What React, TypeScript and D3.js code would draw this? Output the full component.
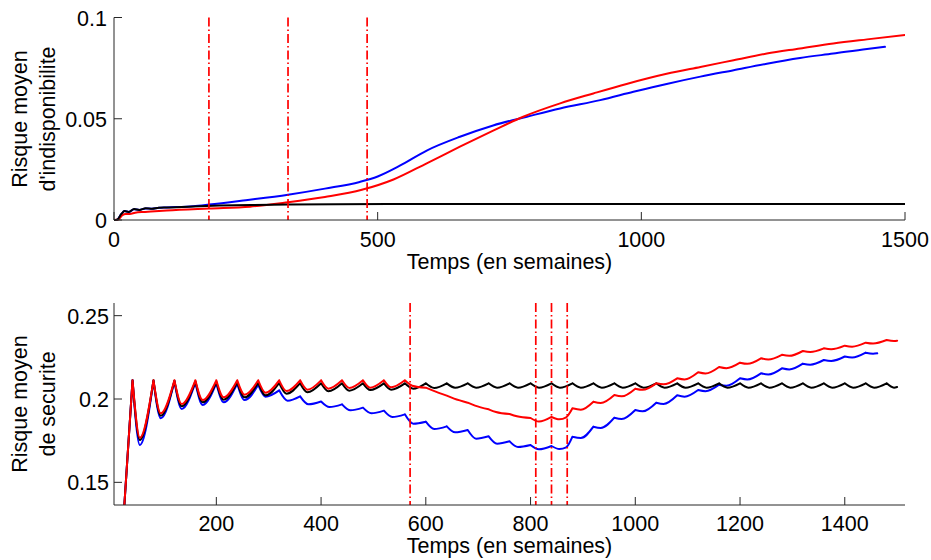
import React from 'react';
import * as d3 from 'd3';

type P = [number, number];

const W = 931;
const H = 560;

// ---------- Top panel data ----------
const topXTicks = [0, 500, 1000, 1500];
const topYTicks = [0, 0.05, 0.1];
const topYTickLabels = ['0', '0.05', '0.1'];
const topEvents = [180, 330, 480];

const topBlue: P[] = [[0,0],[6,0.0002],[14,0.0030],[20,0.0044],[28,0.0040],[38,0.0053],[48,0.0050],[60,0.0057],[72,0.0056],[85,0.0060],[100,0.0062],[150,0.0068],[180,0.0076],[250,0.0098],[330,0.0125],[400,0.0155],[466,0.0188],[500,0.0215],[542,0.0268],[593,0.0343],[656,0.0411],[719,0.0467],[783,0.0510],[846,0.0551],[922,0.0592],[985,0.0633],[1048,0.0672],[1112,0.0708],[1175,0.0740],[1238,0.0772],[1301,0.0800],[1364,0.0822],[1428,0.0845],[1462,0.0855]];
const topRed: P[] = [[0,0],[8,0.0002],[16,0.0024],[22,0.0030],[30,0.0030],[40,0.0036],[55,0.0040],[70,0.0042],[100,0.0047],[180,0.0057],[258,0.0066],[330,0.0088],[400,0.0114],[470,0.0149],[530,0.0200],[593,0.0280],[656,0.0362],[719,0.0441],[776,0.0510],[846,0.0576],[909,0.0625],[972,0.0672],[1048,0.0722],[1112,0.0756],[1175,0.0789],[1238,0.0822],[1301,0.0847],[1364,0.0872],[1428,0.0892],[1500,0.0913]];
const topBlack: P[] = [[0,0],[6,0.0002],[14,0.0030],[20,0.0044],[28,0.0040],[38,0.0054],[48,0.0050],[60,0.0058],[72,0.0056],[85,0.0061],[100,0.0062],[150,0.0067],[200,0.0071],[260,0.0074],[330,0.0076],[420,0.0078],[520,0.0079],[800,0.0079],[1500,0.0079]];

// ---------- Bottom panel data ----------
const botXTicks = [200, 400, 600, 800, 1000, 1200, 1400];
const botYTicks = [0.15, 0.2, 0.25];
const botYTickLabels = ['0.15', '0.2', '0.25'];
const botEvents = [570, 810, 840, 870];

const botBlue: P[] = [[22,0.125],[40,0.2112],[54,0.1724],[80,0.2110],[94,0.1884],[120,0.2106],[134,0.1940],[160,0.2100],[174,0.1964],[200,0.2096],[214,0.1980],[240,0.2092],[254,0.1994],[280,0.2085],[294,0.2014],[320,0.2052],[336,0.1990],[360,0.2016],[376,0.1968],[400,0.1985],[416,0.1952],[440,0.1968],[456,0.1932],[480,0.1948],[496,0.1914],[520,0.1930],[536,0.1892],[560,0.1908],[576,0.1852],[600,0.1864],[616,0.1820],[640,0.1836],[656,0.1800],[680,0.1814],[696,0.1762],[720,0.1776],[736,0.1732],[760,0.1746],[776,0.1712],[800,0.1724],[816,0.1698],[840,0.1718],[855,0.1700],[868,0.1710],[880,0.1774],[896,0.1766],[920,0.1834],[934,0.1826],[960,0.1888],[974,0.1880],[1000,0.1934],[1014,0.1926],[1040,0.1978],[1054,0.1970],[1080,0.2022],[1094,0.2014],[1120,0.2054],[1134,0.2047],[1160,0.2086],[1174,0.2079],[1200,0.2124],[1214,0.2117],[1240,0.2154],[1254,0.2147],[1280,0.2184],[1294,0.2177],[1320,0.2212],[1334,0.2206],[1360,0.2234],[1374,0.2228],[1400,0.2255],[1414,0.2249],[1440,0.2278],[1454,0.2272],[1462,0.2274]];
const botRed: P[] = [[22,0.125],[40,0.2112],[54,0.1768],[80,0.2112],[94,0.1914],[120,0.2112],[134,0.1970],[160,0.2112],[174,0.1994],[200,0.2112],[214,0.2010],[240,0.2112],[254,0.2026],[280,0.2112],[294,0.2038],[320,0.2112],[334,0.2048],[360,0.2112],[374,0.2056],[400,0.2112],[414,0.2062],[440,0.2112],[454,0.2066],[480,0.2112],[494,0.2068],[520,0.2112],[534,0.2070],[560,0.2112],[574,0.2080],[600,0.2068],[614,0.2050],[640,0.2020],[654,0.2002],[680,0.1978],[694,0.1960],[720,0.1938],[734,0.1922],[760,0.1910],[774,0.1896],[800,0.1886],[816,0.1865],[840,0.1893],[855,0.1878],[868,0.1890],[880,0.1944],[896,0.1936],[920,0.1984],[934,0.1976],[960,0.2024],[974,0.2016],[1000,0.2062],[1014,0.2055],[1040,0.2094],[1054,0.2088],[1080,0.2124],[1094,0.2117],[1120,0.2160],[1134,0.2153],[1160,0.2192],[1174,0.2185],[1200,0.2218],[1214,0.2211],[1240,0.2244],[1254,0.2237],[1280,0.2265],[1294,0.2259],[1320,0.2288],[1334,0.2282],[1360,0.2304],[1374,0.2298],[1400,0.2320],[1414,0.2314],[1440,0.2338],[1454,0.2333],[1480,0.2354],[1494,0.2348],[1500,0.2350]];
const botBlack: P[] = [[22,0.125],[40,0.2112],[54,0.1754],[80,0.2112],[94,0.1900],[120,0.2110],[134,0.1956],[160,0.2106],[174,0.1980],[200,0.2102],[214,0.1996],[240,0.2100],[254,0.2010],[280,0.2098],[294,0.2022],[320,0.2096],[334,0.2032],[360,0.2095],[374,0.2040],[400,0.2094],[414,0.2046],[440,0.2094],[454,0.2050],[480,0.2094],[494,0.2054],[520,0.2094],[534,0.2056],[560,0.2094],[576,0.2062],[600,0.2094],[616,0.2066],[640,0.2094],[656,0.2068],[680,0.2094],[696,0.2068],[720,0.2094],[736,0.2068],[760,0.2094],[776,0.2068],[800,0.2094],[816,0.2068],[840,0.2094],[856,0.2068],[880,0.2094],[896,0.2068],[920,0.2094],[936,0.2068],[960,0.2094],[976,0.2068],[1000,0.2094],[1016,0.2068],[1040,0.2094],[1056,0.2068],[1080,0.2094],[1096,0.2068],[1120,0.2094],[1136,0.2068],[1160,0.2094],[1176,0.2068],[1200,0.2094],[1216,0.2068],[1240,0.2094],[1256,0.2068],[1280,0.2094],[1296,0.2068],[1320,0.2094],[1336,0.2068],[1360,0.2094],[1376,0.2068],[1400,0.2094],[1416,0.2068],[1440,0.2094],[1456,0.2068],[1480,0.2094],[1494,0.2068],[1500,0.2072]];

const FONT = "'Liberation Sans', Arial, Helvetica, sans-serif";
const FS = 21.5;
const AXIS = '#262626';

const isCusp = (w: number) => w % 40 === 0 || w === 880;

function sawPath(data: P[], x: d3.ScaleLinear<number, number>, y: d3.ScaleLinear<number, number>) {
  const line = d3.line<P>().x(d => x(d[0])).y(d => y(d[1])).curve(d3.curveMonotoneX);
  const segs: P[][] = [];
  let cur: P[] = [data[0]];
  for (let i = 1; i < data.length; i++) {
    cur.push(data[i]);
    if (isCusp(data[i][0]) && i < data.length - 1) { segs.push(cur); cur = [data[i]]; }
  }
  segs.push(cur);
  return segs.map(s => line(s) || '').join('');
}

function smoothPath(data: P[], x: d3.ScaleLinear<number, number>, y: d3.ScaleLinear<number, number>) {
  return d3.line<P>().x(d => x(d[0])).y(d => y(d[1])).curve(d3.curveMonotoneX)(data) || '';
}

export default function App() {
  const L = 114, R = 905;
  const tx = d3.scaleLinear().domain([0, 1500]).range([L, R]);
  const ty = d3.scaleLinear().domain([0, 0.1]).range([220, 17.5]);
  const bx = d3.scaleLinear().domain([4.6, 1515]).range([L, R]);
  const by = d3.scaleLinear().domain([0.1364, 0.2576]).range([505, 303]);

  const dash = '9,3,1.5,3';
  const lw = 2;

  return (
    <svg width={W} height={H} style={{ position: 'absolute', left: 0, top: 0, background: '#fff' }} fontFamily={FONT}>
      <defs>
        <clipPath id="clipBot"><rect x={L} y={303} width={R - L} height={505 - 303} /></clipPath>
        <clipPath id="clipTop"><rect x={L} y={0} width={R - L} height={221} /></clipPath>
      </defs>

      {/* ---------- TOP PANEL ---------- */}
      <g clipPath="url(#clipTop)" fill="none" strokeLinejoin="round" strokeLinecap="round">
        <path d={smoothPath(topBlue, tx, ty)} stroke="#0000ff" strokeWidth={lw} />
        <path d={smoothPath(topRed, tx, ty)} stroke="#ff0000" strokeWidth={lw} />
        <path d={smoothPath(topBlack, tx, ty)} stroke="#000000" strokeWidth={lw} />
      </g>
      {topEvents.map(e => (
        <line key={'te' + e} x1={tx(e)} x2={tx(e)} y1={ty(0.1)} y2={ty(0)} stroke="#ff0000" strokeWidth={1.7} strokeDasharray={dash} />
      ))}
      <line x1={L} x2={R} y1={220} y2={220} stroke={AXIS} strokeWidth={1} />
      <line x1={L} x2={L} y1={17.5} y2={220} stroke={AXIS} strokeWidth={1} />
      {topXTicks.map(t => (
        <g key={'tx' + t}>
          <line x1={tx(t)} x2={tx(t)} y1={220} y2={212} stroke={AXIS} strokeWidth={1} />
          <text x={tx(t)} y={246.5} fontSize={FS} textAnchor="middle" fill="#000">{t}</text>
        </g>
      ))}
      {topYTicks.map((t, i) => (
        <g key={'ty' + t}>
          <line x1={L} x2={L + 8} y1={ty(t)} y2={ty(t)} stroke={AXIS} strokeWidth={1} />
          <text x={107} y={ty(t) + 8.3} fontSize={FS} textAnchor="end" fill="#000">{topYTickLabels[i]}</text>
        </g>
      ))}
      <text x={509.5} y={268.5} fontSize={FS} textAnchor="middle" fill="#000">Temps (en semaines)</text>
      <text transform="translate(27,119) rotate(-90)" fontSize={FS} textAnchor="middle" fill="#000">Risque moyen</text>
      <text transform="translate(55,119) rotate(-90)" fontSize={FS} textAnchor="middle" fill="#000">d'indisponibilite</text>

      {/* ---------- BOTTOM PANEL ---------- */}
      <g clipPath="url(#clipBot)" fill="none" strokeLinejoin="round" strokeLinecap="round">
        <path d={sawPath(botBlue, bx, by)} stroke="#0000ff" strokeWidth={lw} />
        <path d={sawPath(botBlack, bx, by)} stroke="#000000" strokeWidth={lw} />
        <path d={sawPath(botRed, bx, by)} stroke="#ff0000" strokeWidth={lw} />
      </g>
      {botEvents.map(e => (
        <line key={'be' + e} x1={bx(e)} x2={bx(e)} y1={303} y2={505} stroke="#ff0000" strokeWidth={1.7} strokeDasharray={dash} />
      ))}
      <line x1={L} x2={R} y1={505} y2={505} stroke={AXIS} strokeWidth={1} />
      <line x1={L} x2={L} y1={303} y2={505} stroke={AXIS} strokeWidth={1} />
      {botXTicks.map(t => (
        <g key={'bx' + t}>
          <line x1={bx(t)} x2={bx(t)} y1={505} y2={497} stroke={AXIS} strokeWidth={1} />
          <text x={bx(t)} y={530.5} fontSize={FS} textAnchor="middle" fill="#000">{t}</text>
        </g>
      ))}
      {botYTicks.map((t, i) => (
        <g key={'by' + t}>
          <line x1={L} x2={L + 8} y1={by(t)} y2={by(t)} stroke={AXIS} strokeWidth={1} />
          <text x={109} y={by(t) + 8} fontSize={FS} textAnchor="end" fill="#000">{botYTickLabels[i]}</text>
        </g>
      ))}
      <text x={509.5} y={553} fontSize={FS} textAnchor="middle" fill="#000">Temps (en semaines)</text>
      <text transform="translate(27,404) rotate(-90)" fontSize={FS} textAnchor="middle" fill="#000">Risque moyen</text>
      <text transform="translate(55,404) rotate(-90)" fontSize={FS} textAnchor="middle" fill="#000">de securite</text>
    </svg>
  );
}
